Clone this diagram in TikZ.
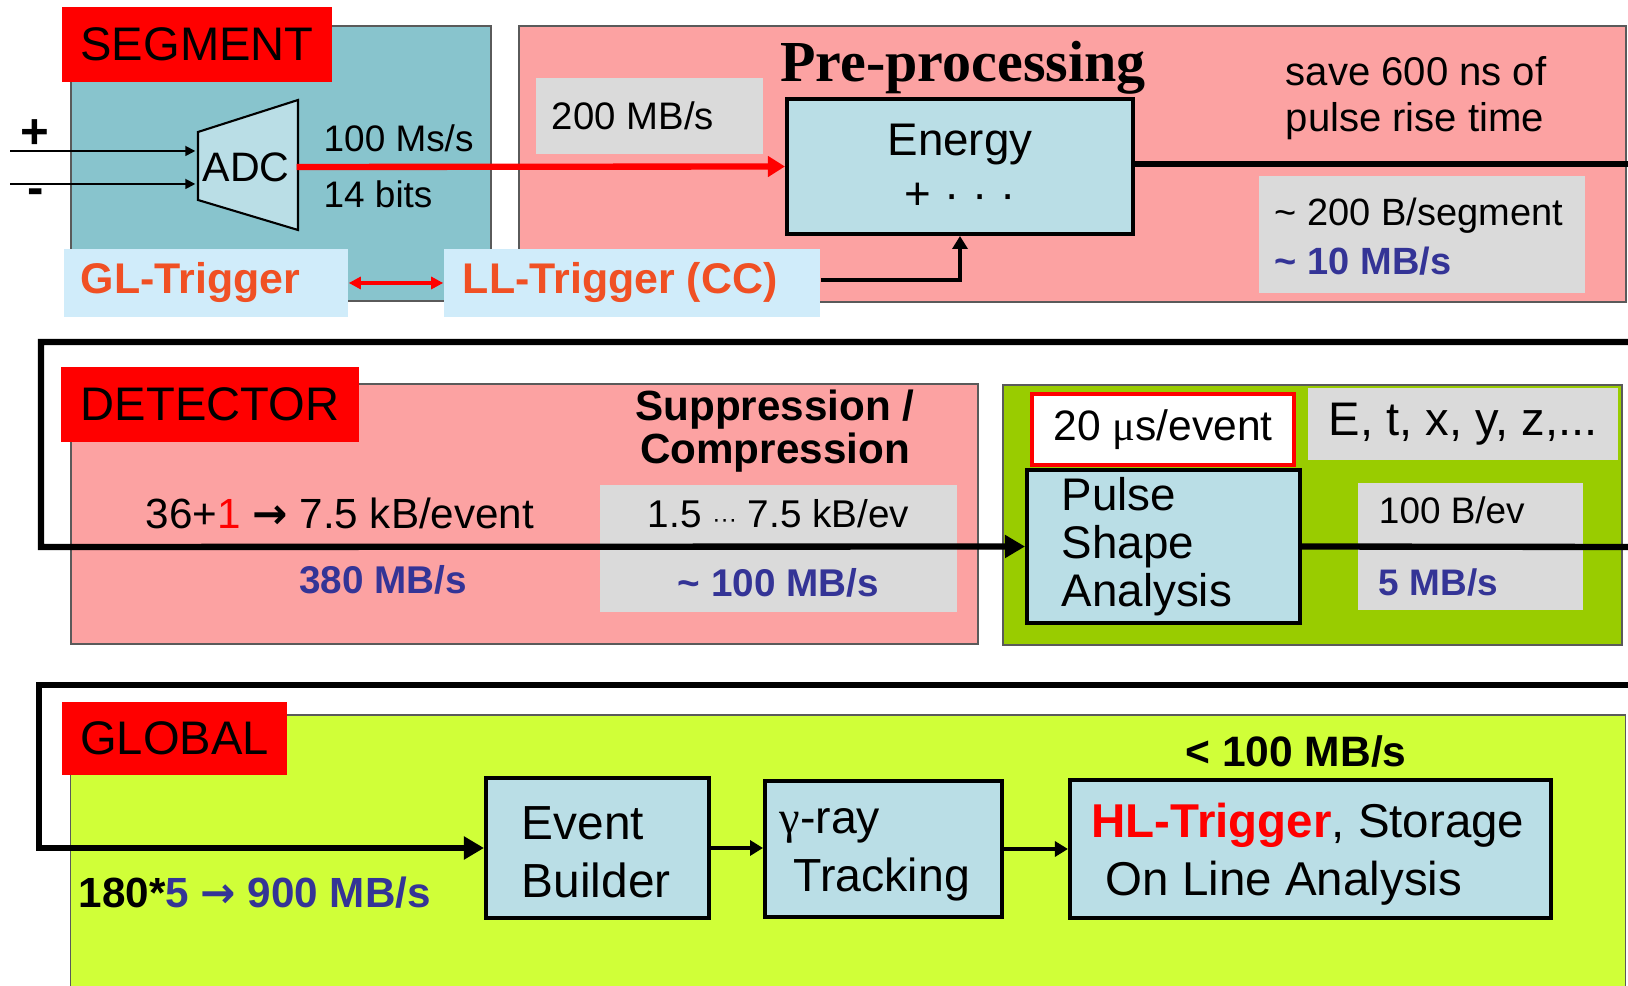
\documentclass[tikz,border=0pt]{standalone}
\usepackage{fontspec}
\setmainfont{Liberation Sans}
\newfontfamily\timesfont{Liberation Serif}
\newfontfamily\arrowfont{DejaVu Sans}
\usetikzlibrary{arrows.meta,positioning}
\definecolor{segcyan}{RGB}{136,196,205}
\definecolor{prepink}{RGB}{252,162,162}
\definecolor{boxblue}{RGB}{186,222,230}
\definecolor{trigblue}{RGB}{208,236,250}
\definecolor{boxgray}{RGB}{218,218,218}
\definecolor{psagreen}{RGB}{153,204,0}
\definecolor{globgreen}{RGB}{208,255,56}
\definecolor{labred}{RGB}{255,0,0}
\definecolor{rateblue}{RGB}{52,52,150}
\definecolor{trigtext}{RGB}{240,80,36}
\definecolor{frame}{RGB}{90,90,90}
\newcommand{\fsz}[2]{\fontsize{#1}{#2}\selectfont}
\newcommand{\rate}[1]{\textcolor{rateblue}{\bfseries #1}}
\newcommand{\tld}{\textasciitilde{}}
\newcommand{\goesto}{{\arrowfont\bfseries →}}

\begin{document}
\begin{tikzpicture}[x=0.01cm,y=-0.01cm,
  panel/.style={draw=frame, line width=0.5pt, inner sep=0pt},
  sectag/.style={fill=labred, inner sep=0pt, font=\fsz{13.4}{15}},
  block/.style={draw=black, line width=1.1pt, fill=boxblue, inner sep=0pt},
  greybox/.style={fill=boxgray, inner sep=0pt},
  trigbox/.style={fill=trigblue, inner sep=0pt},
  note/.style={inner sep=0pt, align=left},
  flow/.style={line width=1.8pt},
  link/.style={line width=1.1pt, -{Triangle[length=0.13cm,width=0.15cm]}},
  sig/.style={line width=0.5pt, -{Triangle[length=0.1cm,width=0.1cm]}},
  bigtip/.style={-{Triangle[length=0.2cm,width=0.22cm]}}]
\path[use as bounding box, clip] (0,0) rectangle (1628,986);
\fill[white] (0,0) rectangle (1628,986);

% segment / pre-processing
\node[panel, fill=segcyan, minimum width=4.2cm, minimum height=2.75cm] (segment) at (281,163.5) {};
\node[panel, fill=prepink, minimum width=11.07cm, minimum height=2.76cm] (preproc) at (1072.5,164) {};
\node[sectag, minimum width=2.7cm, minimum height=0.75cm] (segtag) at (197,44.5) {SEGMENT};
\node[font=\timesfont\bfseries\fsz{16.5}{18}, anchor=base] (pretitle) at (963,82) {Pre-processing};

\filldraw[fill=boxblue, draw=black, line width=0.6pt] (198,132) -- (298,100) -- (298,230) -- (198,200) -- cycle;
\node[minimum width=1cm, minimum height=1.3cm, inner sep=0pt, font=\fsz{11.7}{13}] (adc) at (246,167) {ADC};
\node[font=\bfseries\fsz{14}{15}] (plus) at (35,134) {+};
\node[font=\bfseries\fsz{14}{15}] (minus) at (36,197) {-};
\coordinate (plusin) at (10,151);
\coordinate (minusin) at (10,184);
\draw[sig] (plusin) -- (plusin -| adc.west);
\draw[sig] (minusin) -- (minusin -| adc.west);
\node[note, anchor=west, font=\fsz{10.5}{12}] (samples) at (323,138) {100 Ms/s};
\node[note, anchor=west, font=\fsz{10.5}{12}] (bits) at (323,194) {14 bits};

\node[greybox, minimum width=2.27cm, minimum height=0.76cm] (rawrate) at (649.5,116) {};
\node[note, anchor=west, font=\fsz{10.9}{13}] (rawtext) at ([xshift=0.16cm]rawrate.west) {200 MB/s};
\node[block, minimum width=3.46cm, minimum height=1.35cm, align=center, font=\fsz{13}{15.4}] (energy) at (960,166.5) {Energy\\+ · · ·};
\node[note, anchor=west, font=\fsz{11.4}{13.1}] (savenote) at (1285,98) {save 600 ns of\\pulse rise time};
\node[greybox, minimum width=3.26cm, minimum height=1.17cm] (segrate) at (1422,234.5) {};
\node[note, anchor=west, font=\fsz{10.8}{14}] (segratetext) at ([xshift=0.16cm,yshift=-0.02cm]segrate.west) {\tld{} 200 B/segment\\\rate{\tld{} 10 MB/s}};

\node[trigbox, minimum width=2.84cm, minimum height=0.68cm] (gltrig) at (206,283) {};
\node[note, anchor=west, text=trigtext, font=\bfseries\fsz{12.2}{14}] (gltext) at ([xshift=0.17cm]gltrig.west) {GL-Trigger};
\node[trigbox, minimum width=3.76cm, minimum height=0.68cm] (lltrig) at (632,283) {};
\node[note, anchor=west, text=trigtext, font=\bfseries\fsz{12.2}{14}] (lltext) at ([xshift=0.19cm]lltrig.west) {LL-Trigger (CC)};

\draw[flow, red, -{Triangle[length=0.17cm,width=0.2cm]}] (adc.east) -- (energy.west);
\draw[red, line width=1pt, {Triangle[length=0.12cm,width=0.12cm]}-{Triangle[length=0.12cm,width=0.12cm]}] (gltrig) -- (lltrig);
\draw[link] ([yshift=0.03cm]lltrig.east) -| (energy.south);
\coordinate (segout) at (1628,164);
\draw[flow] (energy.east |- segout) -- (segout);

% detector
\node[panel, fill=prepink, minimum width=9.07cm, minimum height=2.6cm] (detector) at (524.5,514) {};
\node[panel, fill=psagreen, minimum width=6.19cm, minimum height=2.6cm] (psapanel) at (1312.5,515) {};
\node[sectag, minimum width=2.98cm, minimum height=0.75cm] (dettag) at (210,404.5) {DETECTOR};
\node[align=center, font=\bfseries\fsz{12}{12.3}] (supp) at (775,431) {Suppression /\\Compression};
\node[font=\fsz{12}{13}] (crystal) at (340,513) {36+\textcolor{red}{1} \goesto{} 7.5 kB/event};
\node[font=\bfseries\fsz{11}{13}, text=rateblue] (detrate) at (383,580) {380 MB/s};
\node[greybox, minimum width=3.57cm, minimum height=1.27cm, align=center, font=\fsz{11}{13}] (supprate) at (778.5,548.5) {1.5 {\fsz{7}{8}···} 7.5 kB/ev\\[0.24cm]\rate{\tld{} 100 MB/s}};

\node[draw=red, line width=1.2pt, fill=white, inner sep=0pt, minimum width=2.62cm, minimum height=0.71cm, font=\fsz{12.1}{14}] (psatime) at (1163,429.5) {20 {\timesfont μ}s/event};
\node[greybox, minimum width=3.1cm, minimum height=0.72cm, font=\fsz{13.4}{15}] (psaout) at (1463,424) {E, t, x, y, z,...};
\node[block, minimum width=2.73cm, minimum height=1.53cm] (psa) at (1163.5,546.5) {};
\node[note, anchor=west, font=\fsz{13}{13.6}] (psatext) at ([xshift=0.36cm]psa.west) {Pulse\\Shape\\Analysis};
\node[greybox, minimum width=2.25cm, minimum height=1.27cm] (psarate) at (1470.5,546.5) {};
\node[note, anchor=west, font=\fsz{10.5}{13}] (psaratetext) at ([xshift=0.21cm]psarate.west) {100 B/ev\\[0.27cm]\rate{5 MB/s}};

\coordinate (detin) at (1628,342);
\coordinate (detturn) at (41,547);
\draw[flow, bigtip] (detin) -| (detturn) -- (psa.west);
\coordinate (psaexit) at (1628,547);
\draw[flow] (psa.east) -- (psaexit);

% global
\node[panel, fill=globgreen, minimum width=15.54cm, minimum height=2.85cm] (global) at (848,857.5) {};
\node[sectag, minimum width=2.25cm, minimum height=0.73cm] (globtag) at (174.5,738.5) {GLOBAL};
\node[block, minimum width=2.23cm, minimum height=1.4cm] (evbuild) at (597.5,848) {};
\node[note, anchor=west, font=\fsz{13.6}{16.4}] (evtext) at ([xshift=0.37cm,yshift=-0.04cm]evbuild.west) {Event\\Builder};
\node[block, minimum width=2.37cm, minimum height=1.36cm] (tracking) at (883.5,849) {};
\node[note, anchor=west, font=\fsz{13.2}{16.4}] (tracktext) at ([xshift=0.16cm,yshift=-0.06cm]tracking.west) {{\timesfont γ}-ray\\\hspace*{0.3em}Tracking};
\node[block, minimum width=4.81cm, minimum height=1.38cm] (hltrig) at (1310.5,849) {};
\node[note, anchor=west, font=\fsz{13.5}{16.4}] (hltext) at ([xshift=0.23cm,yshift=-0.05cm]hltrig.west) {\textcolor{red}{\bfseries HL-Trigger}, Storage\\\hspace*{0.3em}On Line Analysis};
\node[font=\bfseries\fsz{12.1}{14}] (hlrate) at (1296,752) {< 100 MB/s};
\node[note, anchor=west, font=\bfseries\fsz{12}{14}] (globrate) at (78,893) {180*\textcolor{rateblue}{5 \goesto{} 900 MB/s}};

\coordinate (globin) at (1628,685);
\coordinate (globturn) at (39,848);
\draw[flow, bigtip] (globin) -| (globturn) -- (evbuild.west);
\draw[link] (evbuild.east) -- (evbuild.east -| tracking.west);
\draw[link] (tracking.east) -- (tracking.east -| hltrig.west);
\end{tikzpicture}
\end{document}
